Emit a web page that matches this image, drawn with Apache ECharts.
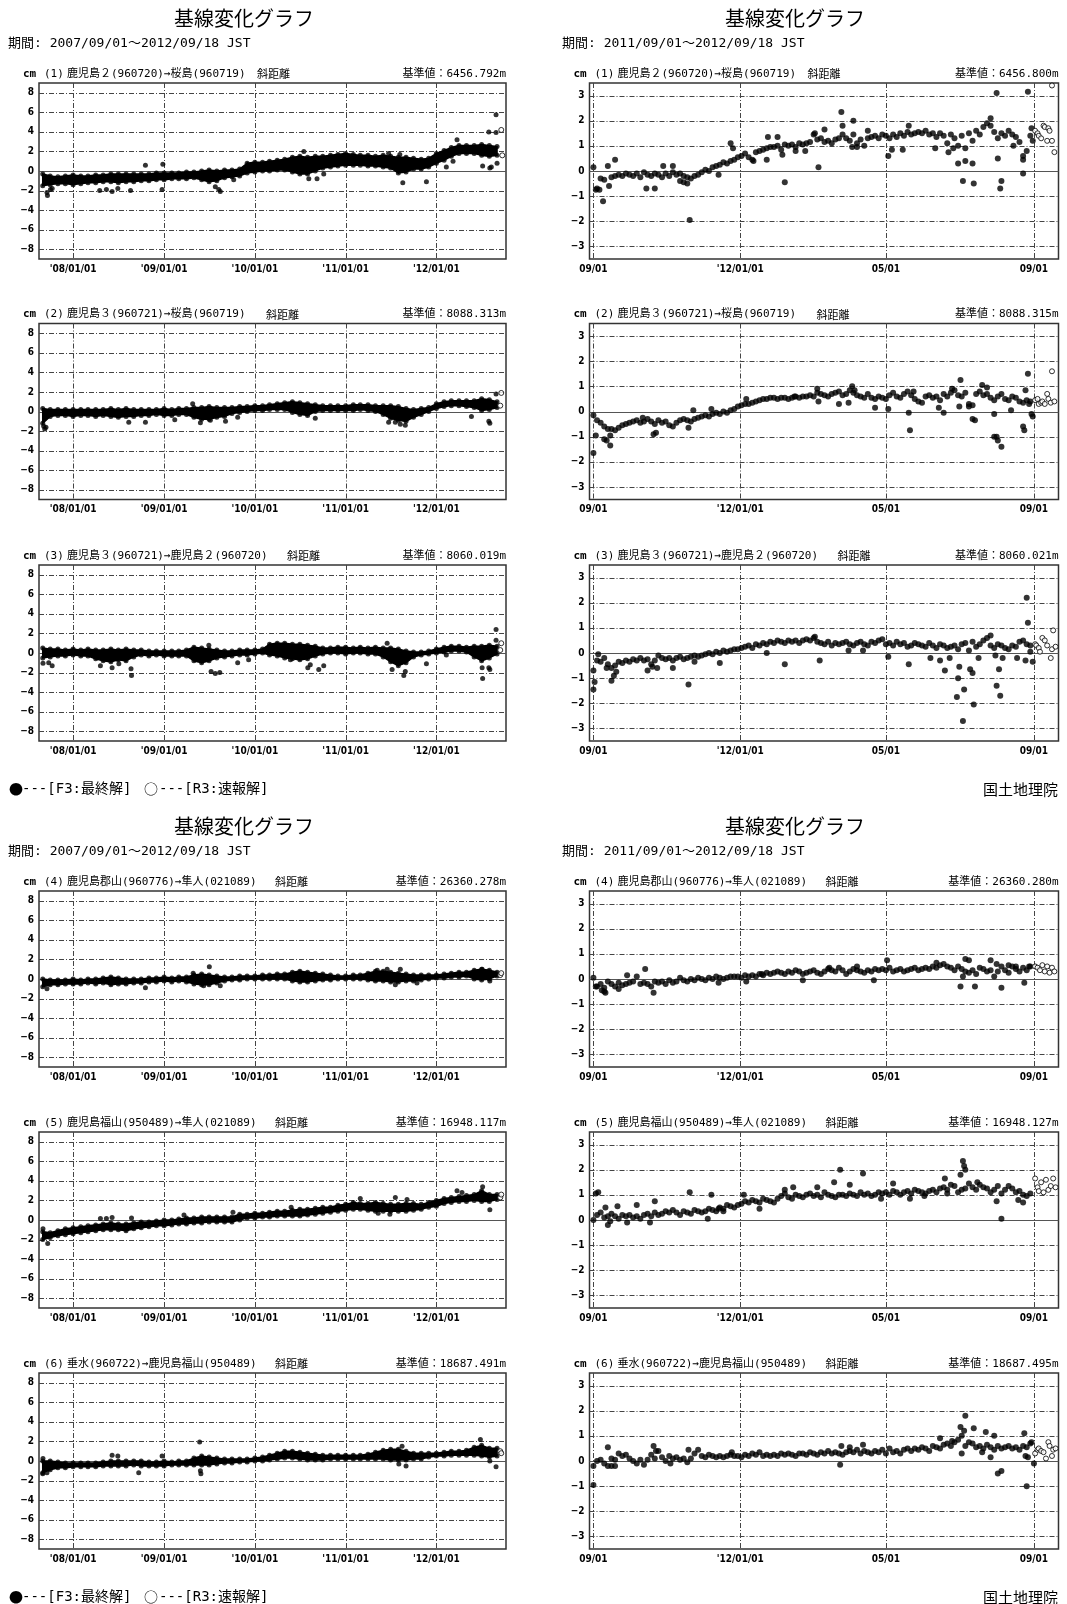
<!DOCTYPE html>
<html>
<head>
<meta charset="utf-8">
<title>基線変化グラフ</title>
<script src="https://cdn.jsdelivr.net/npm/echarts@6/dist/echarts.min.js"></script>
<style>
  html, body { margin: 0; padding: 0; background: #fff; }
  #chart { width: 1067px; height: 1604px; }
</style>
</head>
<body>
<div id="chart"></div>
<script>
// ---------- data ----------
// left column: 2007/09/01 - 2012/09/18, band edges read month by month (1st of month, Sep 2007 .. Sep 2012)
const p1Lo = [-1.5,-1.4,-1.3,-1.3, -1.4,-1.3,-1.2,-1.2,-1.1,-1.1,-1.2,-1.1,-1.1,-1.0,-1.0,-0.9, -0.9,-0.8,-0.8,-0.8,-0.7,-0.9,-1.1,-1.0,-0.7,-0.6,-0.5,-0.2, -0.1,0.0,0.0,0.1,0.1,-0.1,-0.3,-0.3,0.0,0.3,0.4,0.5, 0.6,0.6,0.6,0.5,0.5,0.4,0.3,-0.2,-0.1,0.2,0.2,0.4, 0.8,1.1,1.5,1.8,1.8,1.8,1.6,1.5,1.6];
const p1Hi = [-0.3,-0.5,-0.6,-0.5, -0.4,-0.5,-0.5,-0.4,-0.4,-0.3,-0.3,-0.3,-0.3,-0.3,-0.3,-0.2, -0.2,-0.2,-0.2,-0.1,-0.1,0.0,0.1,0.0,0.1,0.1,0.2,0.8, 0.9,0.9,1.0,1.1,1.2,1.4,1.5,1.4,1.5,1.5,1.6,1.7, 1.8,1.7,1.6,1.6,1.5,1.6,1.5,1.4,1.4,1.3,1.2,1.3, 1.8,2.1,2.4,2.6,2.6,2.6,2.7,2.6,2.5];
const p2Lo = [-1.2,-0.5,-0.4,-0.4, -0.5,-0.4,-0.4,-0.5,-0.4,-0.5,-0.6,-0.5,-0.5,-0.4,-0.4,-0.3, -0.4,-0.4,-0.3,-0.3,-0.6,-0.8,-0.8,-0.6,-0.5,-0.2,-0.1,0.0, 0.1,0.1,0.2,0.2,0.2,-0.1,-0.3,-0.4,0.0,0.1,0.1,0.1, 0.1,0.1,0.2,0.1,0.0,-0.3,-0.7,-0.9,-1.0,-0.6,-0.3,0.0, 0.3,0.5,0.6,0.6,0.5,0.4,0.1,0.2,0.4];
const p2Hi = [0.3,0.2,0.2,0.2, 0.2,0.2,0.2,0.2,0.2,0.3,0.2,0.3,0.2,0.2,0.2,0.2, 0.3,0.2,0.3,0.3,0.4,0.4,0.5,0.4,0.4,0.4,0.5,0.5, 0.6,0.6,0.7,0.8,0.9,1.0,0.9,0.8,0.7,0.6,0.6,0.6, 0.6,0.7,0.7,0.7,0.6,0.6,0.6,0.5,0.3,0.2,0.3,0.4, 0.8,1.0,1.1,1.1,1.1,1.1,1.3,1.2,1.0];
const p3Lo = [-0.5,-0.4,-0.3,-0.3, -0.2,-0.3,-0.3,-0.6,-0.8,-0.9,-0.7,-0.8,-0.4,-0.2,-0.3,-0.2, -0.3,-0.3,-0.3,-0.3,-0.8,-1.0,-0.8,-0.5,-0.4,-0.3,-0.2,-0.2, -0.1,0.0,-0.2,-0.3,-0.5,-0.6,-0.7,-0.6,-0.3,-0.1,0.0,0.0, -0.1,0.0,0.0,-0.1,-0.1,-0.4,-0.9,-1.3,-1.0,-0.4,-0.2,-0.1, 0.0,0.1,0.2,0.2,0.1,-0.4,-0.8,-0.5,-0.1];
const p3Hi = [0.5,0.4,0.4,0.3, 0.4,0.3,0.4,0.3,0.3,0.4,0.3,0.4,0.3,0.3,0.2,0.2, 0.2,0.2,0.2,0.3,0.6,0.5,0.4,0.3,0.2,0.2,0.3,0.3, 0.3,0.4,0.9,1.0,1.0,0.9,0.9,0.8,0.7,0.5,0.5,0.6, 0.6,0.5,0.6,0.5,0.6,0.5,0.5,0.4,0.2,0.1,0.1,0.2, 0.4,0.6,0.7,0.7,0.6,0.7,0.7,0.8,0.7];
const p4Lo = [-0.8,-0.6,-0.6,-0.5, -0.5,-0.5,-0.4,-0.5,-0.4,-0.6,-0.5,-0.5,-0.4,-0.4,-0.3,-0.3, -0.2,-0.3,-0.2,-0.3,-0.5,-0.6,-0.6,-0.4,-0.2,-0.1,-0.1,0.0, 0.0,0.0,0.0,0.0,0.0,-0.2,-0.3,-0.3,-0.2,-0.1,-0.1,0.0, 0.0,0.0,0.0,-0.1,-0.2,-0.2,-0.3,-0.3,-0.2,-0.2,-0.1,0.0, 0.1,0.1,0.2,0.2,0.3,0.0,-0.1,0.0,0.3];
const p4Hi = [0.0,-0.1,-0.1,-0.1, 0.0,-0.1,0.0,0.0,0.1,0.2,0.1,0.0,0.0,0.0,0.1,0.1, 0.2,0.1,0.2,0.2,0.4,0.5,0.4,0.3,0.2,0.2,0.3,0.3, 0.3,0.4,0.4,0.5,0.5,0.7,0.8,0.7,0.6,0.5,0.4,0.3, 0.3,0.4,0.4,0.6,0.8,0.8,0.7,0.6,0.5,0.4,0.4,0.4, 0.4,0.5,0.6,0.7,0.7,0.9,1.0,0.9,0.7];
const p5Lo = [-2.0,-1.8,-1.6,-1.5, -1.4,-1.3,-1.2,-1.1,-1.0,-1.0,-1.0,-1.1,-0.9,-0.8,-0.7,-0.6, -0.6,-0.5,-0.4,-0.4,-0.3,-0.3,-0.2,-0.2,-0.2,-0.2,0.0,0.2, 0.2,0.3,0.3,0.4,0.4,0.4,0.4,0.5,0.6,0.7,0.8,0.9, 1.0,1.1,1.1,1.0,0.9,0.9,0.9,0.9,0.9,1.0,1.1,1.3, 1.4,1.7,1.8,1.9,1.9,2.0,1.9,1.9,2.1];
const p5Hi = [-1.2,-1.3,-1.1,-0.9, -0.8,-0.7,-0.6,-0.5,-0.4,-0.3,-0.4,-0.4,-0.3,-0.2,-0.2,-0.1, 0.0,0.0,0.1,0.2,0.2,0.3,0.3,0.3,0.3,0.3,0.6,0.6, 0.7,0.7,0.8,0.9,0.9,1.0,1.1,1.1,1.2,1.3,1.3,1.5, 1.6,1.8,1.7,1.7,1.8,1.7,1.6,1.6,1.7,1.7,1.6,1.8, 2.0,2.2,2.3,2.4,2.5,2.6,3.0,2.6,2.6];
const p6Lo = [-1.2,-0.9,-0.7,-0.7, -0.6,-0.6,-0.6,-0.6,-0.5,-0.5,-0.5,-0.5,-0.4,-0.5,-0.5,-0.5, -0.5,-0.4,-0.4,-0.4,-0.4,-0.4,-0.4,-0.3,-0.2,-0.2,-0.1,-0.1, 0.0,0.0,0.1,0.2,0.3,0.3,0.2,0.1,0.1,0.1,0.2,0.2, 0.2,0.2,0.2,0.2,0.2,0.2,0.1,0.1,0.1,0.2,0.2,0.4, 0.5,0.5,0.6,0.6,0.6,0.6,0.5,0.4,0.5];
const p6Hi = [0.0,0.0,-0.1,-0.2, -0.2,-0.2,-0.2,-0.2,-0.1,0.0,0.0,0.0,0.0,0.0,-0.1,-0.1, 0.0,-0.1,0.0,0.0,0.3,0.5,0.4,0.3,0.2,0.2,0.2,0.2, 0.3,0.4,0.6,0.8,1.0,1.0,0.9,0.8,0.7,0.6,0.6,0.6, 0.6,0.6,0.6,0.7,0.9,1.1,1.2,1.2,1.0,0.8,0.8,0.8, 0.8,0.9,1.0,1.0,1.1,1.4,1.6,1.3,1.3];

// stray points [days after 2007/09/01, cm]
const p1Out = [[17,-2.2],[19,-2.5],[31,-1.9],[38,-1.8],[229,-2.0],[256,-1.9],[279,-2.1],[302,-1.8],[353,-2.0],[413,0.6],[480,-1.9],[483,0.7],[694,-1.6],[708,-1.9],[714,-2.1],[768,-0.9],[1050,2.0],[1070,-0.8],[1103,-0.8],[1130,-0.3],[1391,1.8],[1436,1.7],[1448,-1.2],[1543,-1.1],[1623,0.4],[1650,1.0],[1666,3.2],[1769,0.5],[1794,4.0],[1798,0.3],[1804,0.4],[1823,3.95],[1823,5.75],[1827,0.8]];
const p2Out = [[4,-1.5],[8,-1.8],[13,-1.6],[346,-1.1],[413,-1.1],[531,-0.85],[603,0.8],[634,-1.15],[674,-0.9],[735,-1.0],[784,-0.6],[1096,-0.7],[1391,-1.1],[1418,-1.1],[1438,-1.3],[1458,-1.4],[1724,-0.5],[1794,-1.0],[1798,-1.2],[1823,1.8]];
const p3Out = [[1,-1.05],[24,-1.0],[38,-1.3],[232,-1.3],[279,-1.5],[306,-1.1],[355,-1.6],[357,-2.3],[668,0.8],[677,-1.9],[694,-2.1],[712,-2.0],[784,-1.0],[828,-0.7],[996,-0.7],[1066,-1.5],[1076,-1.2],[1110,-1.7],[1130,-1.3],[1385,1.0],[1405,-1.7],[1452,-2.3],[1458,-1.9],[1543,-1.1],[1623,-0.2],[1767,-1.5],[1769,-2.6],[1794,-1.5],[1798,-1.7],[1823,2.4],[1823,1.3]];
const p4Out = [[17,-1.0],[413,-0.9],[605,0.6],[647,-0.7],[670,1.25],[714,-0.7],[1345,0.9],[1385,1.0],[1418,-0.6],[1438,1.0],[1505,-0.4],[1767,1.0],[1798,-0.2]];
const p5Out = [[1,-0.9],[20,-2.4],[232,0.15],[256,0.15],[279,0.25],[357,0.2],[568,0.5],[765,0.8],[999,1.3],[1277,2.2],[1349,0.7],[1396,0.6],[1418,2.3],[1465,2.1],[1666,3.0],[1686,2.8],[1769,3.4],[1798,1.05]];
const p6Out = [[0,-1.3],[17,-1.2],[1,0.25],[279,0.6],[302,0.5],[386,-1.2],[480,0.5],[631,1.95],[634,-1.0],[636,-1.3],[1445,1.5],[1432,-0.3],[1461,-0.5],[1760,2.2],[1798,0.0],[1823,-0.6]];

// R3 (quick solution) points, left column
const p1Quick = [[1844,4.2],[1848,1.6]];
const p2Quick = [[1840,0.6],[1844,1.9]];
const p3Quick = [[1840,0.3],[1844,1.0]];
const p4Quick = [[1840,0.4],[1844,0.6]];
const p5Quick = [[1840,2.3],[1844,2.6]];
const p6Quick = [[1840,1.0],[1844,0.8]];

// right column: 2011/09/01 - 2012/09/18, one reading every 3 days from 2011/09/01
const r1Val = [0.15,-0.7,-0.3,-0.35,0.2,-0.25,-0.2,-0.15,-0.2,-0.1, -0.15,-0.2,-0.1,-0.25,-0.05,-0.15,-0.2,-0.1,-0.15,-0.25, -0.1,-0.2,-0.05,-0.15,-0.1,-0.2,-0.25,-0.3,-0.2,-0.15, -0.05,0.05,0.0,0.15,0.2,0.25,0.35,0.3,0.4,0.45, 0.55,0.6,0.7,0.55,0.45,0.75,0.8,0.85,0.9,0.95, 0.95,1.0,0.85,1.05,1.0,1.05,0.95,1.1,1.05,1.1, 1.15,1.45,1.25,1.3,1.15,1.2,1.1,1.25,1.3,1.45, 1.3,1.2,1.45,1.1,1.25,1.0,1.3,1.35,1.4,1.3, 1.45,1.4,1.3,1.45,1.35,1.5,1.4,1.55,1.45,1.5, 1.55,1.5,1.6,1.45,1.5,1.35,1.5,1.4,1.1,1.45, 1.3,1.0,1.4,0.9,1.5,1.2,1.6,1.45,1.75,1.9, 1.8,1.55,1.3,1.5,1.4,1.6,1.45,1.35,1.15,0.6, 0.8,1.4];
const r2Val = [-0.15,-0.35,-0.45,-0.6,-0.7,-0.7,-0.75,-0.65,-0.55,-0.5, -0.45,-0.4,-0.35,-0.45,-0.4,-0.3,-0.4,-0.5,-0.35,-0.45, -0.4,-0.55,-0.6,-0.45,-0.35,-0.3,-0.35,-0.4,-0.3,-0.25, -0.2,-0.15,-0.2,-0.1,-0.05,-0.1,0.0,-0.05,0.05,0.1, 0.2,0.25,0.3,0.3,0.35,0.4,0.45,0.5,0.5,0.55, 0.55,0.5,0.55,0.55,0.5,0.55,0.6,0.55,0.6,0.6, 0.65,0.6,0.75,0.7,0.65,0.6,0.7,0.75,0.8,0.65, 0.7,0.85,0.75,0.65,0.6,0.55,0.7,0.55,0.5,0.6, 0.55,0.5,0.65,0.75,0.6,0.55,0.7,0.8,0.65,0.5, 0.4,0.35,0.6,0.65,0.55,0.6,0.45,0.7,0.6,0.75, 0.85,0.65,0.6,0.75,0.3,0.25,0.7,0.8,0.65,0.7, 0.55,0.45,0.6,0.7,0.5,0.45,0.6,0.55,0.4,0.35, 0.45,0.4];
const r3Val = [-0.7,-0.3,-0.35,-0.2,-0.45,-0.6,-0.5,-0.35,-0.4,-0.3, -0.35,-0.25,-0.3,-0.2,-0.3,-0.25,-0.45,-0.3,-0.1,-0.2, -0.25,-0.2,-0.3,-0.2,-0.15,-0.25,-0.2,-0.15,-0.1,-0.15, -0.1,-0.05,0.0,-0.05,0.05,0.0,0.1,0.05,0.1,0.15, 0.15,0.2,0.25,0.3,0.2,0.35,0.3,0.4,0.35,0.45, 0.4,0.5,0.45,0.4,0.5,0.45,0.5,0.4,0.5,0.55, 0.5,0.6,0.45,0.4,0.35,0.45,0.3,0.4,0.35,0.4, 0.45,0.35,0.3,0.4,0.45,0.35,0.3,0.45,0.4,0.5, 0.55,0.35,0.4,0.3,0.45,0.35,0.4,0.25,0.3,0.4, 0.35,0.3,0.25,0.4,0.3,0.2,0.35,0.3,0.2,0.25, 0.3,0.15,0.35,0.4,0.1,0.45,0.25,0.35,0.5,0.6, 0.3,0.2,0.35,0.3,0.2,0.15,0.3,0.25,0.45,0.5, 0.35,0.3];
const r4Val = [0.05,-0.3,-0.2,-0.35,-0.1,-0.2,-0.3,-0.15,-0.25,-0.2, -0.15,-0.1,0.1,-0.2,-0.15,-0.2,-0.3,-0.1,-0.15,-0.1, -0.2,-0.05,-0.15,-0.1,0.05,-0.05,-0.1,0.0,-0.05,0.05, 0.0,-0.05,0.05,0.0,0.1,0.05,0.0,0.05,0.1,0.1, 0.1,0.05,0.15,0.1,0.15,0.1,0.2,0.15,0.25,0.2, 0.25,0.3,0.25,0.2,0.3,0.25,0.35,0.3,0.2,0.25, 0.3,0.35,0.25,0.2,0.3,0.4,0.35,0.3,0.45,0.35, 0.2,0.3,0.4,0.35,0.3,0.25,0.35,0.3,0.4,0.35, 0.4,0.35,0.45,0.3,0.35,0.4,0.3,0.35,0.4,0.45, 0.35,0.4,0.45,0.4,0.5,0.45,0.55,0.6,0.5,0.45, 0.35,0.5,0.4,0.3,0.25,0.35,0.2,0.45,0.4,0.3, 0.35,0.1,0.3,0.5,0.35,0.25,0.5,0.4,0.3,0.45, 0.35,0.5];
const r5Val = [0.0,0.2,0.3,0.1,0.15,0.25,0.15,0.05,0.2,0.15, 0.2,0.1,0.15,0.05,0.2,0.25,0.15,0.3,0.2,0.25, 0.35,0.3,0.4,0.3,0.2,0.35,0.3,0.25,0.4,0.35, 0.3,0.35,0.45,0.4,0.35,0.5,0.45,0.6,0.55,0.5, 0.6,0.65,0.75,0.7,0.8,0.75,0.7,0.85,0.8,0.75, 0.7,0.85,0.95,1.05,0.9,0.85,1.0,0.95,0.9,1.0, 1.05,0.95,1.0,0.9,1.1,1.0,0.95,0.9,1.0,1.0, 0.95,1.05,1.0,0.95,1.1,1.0,1.05,0.95,1.0,1.1, 1.05,1.1,1.0,1.15,1.1,1.0,1.1,1.15,1.05,1.2, 1.15,1.1,1.05,1.15,1.2,1.1,1.25,1.3,1.2,1.4, 1.35,1.1,1.2,1.25,1.45,1.3,1.2,1.4,1.3,1.25, 1.1,1.2,1.35,1.05,1.2,1.35,1.25,1.1,1.15,1.0, 0.95,1.05];
const r6Val = [-0.2,0.0,0.05,-0.1,-0.2,0.1,0.05,0.3,0.2,0.25, 0.1,0.0,-0.1,0.05,-0.15,0.05,0.25,0.1,0.4,0.15, 0.0,0.2,0.1,0.15,0.05,0.1,-0.05,0.1,0.3,0.45, 0.2,0.15,0.25,0.2,0.15,0.2,0.15,0.2,0.25,0.2, 0.2,0.15,0.25,0.2,0.3,0.25,0.35,0.2,0.25,0.2, 0.25,0.2,0.3,0.25,0.3,0.25,0.2,0.3,0.3,0.25, 0.35,0.3,0.25,0.35,0.3,0.4,0.3,0.35,0.3,0.25, 0.35,0.4,0.35,0.45,0.3,0.4,0.35,0.3,0.4,0.35, 0.45,0.3,0.5,0.35,0.4,0.3,0.45,0.5,0.4,0.5, 0.45,0.55,0.5,0.4,0.6,0.55,0.5,0.65,0.7,0.6, 0.75,0.85,1.0,0.6,0.75,0.7,0.55,0.6,0.5,0.65, 0.55,0.45,0.6,0.5,0.55,0.6,0.5,0.55,0.45,0.6, 0.55,0.7];

// extra F3 points [days after 2011/09/01, cm]
const r1Out = [[2,-0.75],[5,-0.75],[8,-1.2],[13,-0.6],[18,0.45],[44,-0.7],[51,-0.7],[58,0.2],[66,0.2],[72,-0.4],[75,-0.45],[78,-0.5],[80,-1.95],[104,-0.15],[114,1.1],[116,0.9],[133,0.4],[144,0.45],[145,1.35],[153,1.35],[157,0.65],[159,-0.45],[168,0.8],[176,0.8],[184,1.5],[187,0.15],[192,1.65],[206,2.35],[207,1.8],[215,0.95],[216,2.0],[219,0.95],[228,1.6],[245,0.6],[248,0.85],[257,0.85],[262,1.8],[284,0.9],[295,0.75],[299,0.9],[303,0.3],[307,-0.4],[309,0.4],[315,0.3],[316,-0.5],[330,2.1],[335,3.1],[336,0.5],[338,-0.7],[339,-0.4],[349,1.0],[357,0.45],[357,-0.1],[361,3.15],[364,1.7],[365,1.2]];
const r2Out = [[0,-1.65],[2,-0.95],[9,-1.1],[11,-1.15],[14,-0.95],[14,-1.35],[41,-0.25],[50,-0.9],[52,-0.85],[79,-0.65],[83,0.05],[98,0.1],[127,0.5],[167,0.6],[186,0.9],[187,0.4],[204,0.3],[212,0.35],[215,1.0],[217,0.85],[234,0.15],[245,0.1],[262,-0.05],[263,-0.75],[266,0.8],[287,0.15],[291,-0.05],[298,0.9],[304,0.2],[305,1.25],[312,0.2],[315,-0.3],[317,-0.35],[323,1.05],[327,0.95],[333,-1.0],[333,-0.1],[335,-1.0],[336,-1.15],[339,-1.4],[347,0.05],[357,-0.6],[358,-0.75],[359,0.85],[361,1.5],[362,0.3],[364,-0.1],[365,-0.2]];
const r3Out = [[0,-1.45],[1,-1.15],[4,-0.05],[11,-0.6],[15,-1.1],[17,-0.9],[19,-0.75],[45,-0.7],[49,-0.55],[53,-0.6],[66,-0.6],[79,-1.25],[84,-0.35],[105,-0.4],[144,0.0],[159,-0.45],[184,0.65],[188,-0.3],[212,0.1],[224,0.1],[245,-0.15],[262,-0.45],[280,-0.2],[288,-0.3],[292,-0.7],[296,-0.2],[302,-1.75],[303,-1.0],[304,-0.55],[307,-2.7],[308,-1.45],[313,-0.65],[315,-0.8],[316,-2.05],[320,-0.2],[330,0.7],[334,-0.1],[335,-1.3],[337,-0.65],[338,-1.7],[340,-0.2],[352,-0.2],[359,-0.3],[360,2.2],[361,1.2],[363,0.05],[365,-0.35]];
const r4Out = [[2,-0.3],[7,-0.45],[9,-0.5],[10,-0.55],[21,-0.4],[28,0.15],[43,0.4],[50,-0.55],[104,-0.15],[127,-0.1],[140,0.2],[174,-0.05],[196,0.45],[219,0.5],[233,-0.05],[244,0.75],[285,0.65],[305,-0.3],[307,0.1],[309,0.8],[312,0.75],[317,-0.3],[330,0.75],[335,0.6],[339,-0.35],[345,0.55],[351,0.5],[358,-0.15],[362,0.5]];
const r5Out = [[2,1.05],[4,1.1],[10,0.5],[12,-0.2],[14,-0.05],[20,0.55],[28,-0.1],[36,0.6],[47,-0.1],[51,0.75],[80,1.1],[95,0.05],[98,1.0],[104,0.45],[108,0.35],[125,1.0],[138,0.45],[159,1.2],[166,1.3],[186,1.3],[200,1.5],[205,2.0],[213,1.4],[224,1.85],[239,0.85],[249,1.45],[263,0.85],[275,0.95],[292,1.65],[294,1.05],[305,1.8],[307,2.35],[308,2.15],[309,2.0],[319,1.5],[335,0.75],[339,0.05],[353,0.8],[357,0.7]];
const r6Out = [[0,-0.95],[12,0.55],[15,-0.2],[18,-0.2],[50,0.6],[52,0.4],[64,-0.1],[79,0.45],[115,0.35],[205,-0.15],[206,0.6],[213,0.55],[224,0.65],[288,0.9],[298,0.8],[305,1.35],[306,0.3],[308,1.2],[309,1.8],[316,1.3],[323,0.35],[326,1.15],[330,0.15],[333,1.0],[336,-0.5],[339,-0.4],[358,1.1],[359,0.2],[360,-1.0],[361,0.15],[364,0.75],[366,-0.1]];

// R3 (quick solution) points, right column [days after 2011/09/01, cm]
const r1Quick = [[367,1.6],[369,1.5],[370,1.4],[372,1.3],[374,1.8],[375,1.75],[377,1.2],[378,1.7],[379,1.6],[381,3.4],[381,1.2],[383,0.75]];
const r2Quick = [[367,0.45],[369,0.5],[370,0.3],[372,0.35],[373,0.4],[375,0.3],[377,0.7],[378,0.5],[380,0.35],[381,1.6],[383,0.4]];
const r3Quick = [[367,0.35],[368,0.3],[370,0.2],[371,0.05],[373,0.6],[375,0.5],[377,0.3],[380,-0.2],[381,0.15],[382,0.9],[384,0.25]];
const r4Quick = [[367,0.5],[369,0.45],[371,0.35],[373,0.55],[375,0.3],[377,0.5],[379,0.25],[381,0.45],[383,0.3]];
const r5Quick = [[367,1.65],[369,1.3],[370,1.15],[372,1.5],[374,1.1],[376,1.6],[378,1.2],[380,1.35],[382,1.65],[384,1.3]];
const r6Quick = [[367,0.3],[369,0.45],[370,0.5],[372,0.4],[374,0.35],[376,0.1],[378,0.75],[379,0.6],[381,0.2],[382,0.45],[384,0.5]];

// labels
const pairNames = ['鹿児島２(960720)→桜島(960719)', '鹿児島３(960721)→桜島(960719)', '鹿児島３(960721)→鹿児島２(960720)',
  '鹿児島郡山(960776)→隼人(021089)', '鹿児島福山(950489)→隼人(021089)', '垂水(960722)→鹿児島福山(950489)'];
const baseLeft = ['6456.792', '8088.313', '8060.019', '26360.278', '16948.117', '18687.491'];
const baseRight = ['6456.800', '8088.315', '8060.021', '26360.280', '16948.127', '18687.495'];
const leftTicks = ['2008-01-01', '2009-01-01', '2010-01-01', '2011-01-01', '2012-01-01'];
const leftTickLabels = ["'08/01/01", "'09/01/01", "'10/01/01", "'11/01/01", "'12/01/01"];
const rightTicks = ['2011-09-01', '2012-01-01', '2012-05-01', '2012-09-01'];
const rightTickLabels = ['09/01', "'12/01/01", '05/01', '09/01'];
const leftYTicks = [-8, -6, -4, -2, 0, 2, 4, 6, 8];
const rightYTicks = [-3, -2, -1, 0, 1, 2, 3];

// ---------- layout ----------
const DAY = 86400000;
const FONT = '"Noto Sans CJK JP", "Noto Sans", sans-serif';
const MONO = '"DejaVu Sans Mono", "Noto Sans CJK JP", monospace';
const TICK_FONT = '"DejaVu Sans Condensed", "Liberation Sans Narrow", "Liberation Sans", sans-serif';
const TOPS = [83, 323.5, 565, 891, 1132, 1373];
const PANEL_H = 176;
const LEFT_X = 39, LEFT_W = 467, RIGHT_X = 589.5, RIGHT_W = 469;
const KIND_DX = [218, 227, 248, 236, 236, 236];

const day = (s) => { const [y, m, d] = s.split('-').map(Number); return Date.UTC(y, m - 1, d); };
const leftStart = day('2007-09-01');
const rightStart = day('2011-09-01');
const leftRange = [day('2007-08-17'), day('2012-10-07')];
const rightRange = [Date.UTC(2011, 7, 28, 18), Date.UTC(2012, 8, 21, 10)];
const leftTickTimes = leftTicks.map(day);
const rightTickTimes = rightTicks.map(day);
const monthTimes = p1Lo.map((_, i) => Date.UTC(2007, 8 + i, 1));

const bandLo = [p1Lo, p2Lo, p3Lo, p4Lo, p5Lo, p6Lo];
const bandHi = [p1Hi, p2Hi, p3Hi, p4Hi, p5Hi, p6Hi];
const leftOut = [p1Out, p2Out, p3Out, p4Out, p5Out, p6Out];
const leftQuick = [p1Quick, p2Quick, p3Quick, p4Quick, p5Quick, p6Quick];
const rightVal = [r1Val, r2Val, r3Val, r4Val, r5Val, r6Val];
const rightOut = [r1Out, r2Out, r3Out, r4Out, r5Out, r6Out];
const rightQuick = [r1Quick, r2Quick, r3Quick, r4Quick, r5Quick, r6Quick];

function renderGridLine(params, api) {
  const cs = params.coordSys;
  const kind = api.value(2);
  const p = api.coord([api.value(0), api.value(1)]);
  let shape;
  if (kind === 0) {
    const x = Math.round(p[0]) + 0.5;
    shape = { x1: x, y1: cs.y, x2: x, y2: cs.y + cs.height };
  } else {
    const y = Math.round(p[1]) + 0.5;
    shape = { x1: cs.x, y1: y, x2: cs.x + cs.width, y2: y };
  }
  const style = kind === 2
    ? { stroke: '#555', lineWidth: 1.2 }
    : { stroke: '#444', lineWidth: 1, lineDash: [5, 2, 1, 2] };
  return { type: 'line', shape, style };
}

function renderBand(params, api) {
  const a = api.coord([api.value(0), api.value(2)]);
  const b = api.coord([api.value(3), api.value(5)]);
  const c = api.coord([api.value(3), api.value(4)]);
  const d = api.coord([api.value(0), api.value(1)]);
  return { type: 'polygon', shape: { points: [a, b, c, d] }, style: { fill: '#000', stroke: '#000', lineWidth: 1.5 } };
}

function txt(text, x, y, size, align, weight, family) {
  return {
    type: 'text', silent: true,
    style: {
      text, x, y, fill: '#000',
      font: `${weight || 'normal'} ${size}px ${family || FONT}`,
      textAlign: align || 'left', textVerticalAlign: 'middle'
    }
  };
}

const grids = [], xAxes = [], yAxes = [], series = [], texts = [];
const dot = { color: '#000' };
const ring = { color: '#fff', borderColor: '#000', borderWidth: 1 };
const minus = (v) => String(v).replace('-', '−');

for (let k = 0; k < 6; k++) {
  for (let side = 0; side < 2; side++) {
    const gi = grids.length;
    const gx = side ? RIGHT_X : LEFT_X;
    const gw = side ? RIGHT_W : LEFT_W;
    const top = TOPS[k];
    const tickTimes = side ? rightTickTimes : leftTickTimes;
    const tickLabels = side ? rightTickLabels : leftTickLabels;
    const yTicks = side ? rightYTicks : leftYTicks;
    const range = side ? rightRange : leftRange;
    const ext = side ? 3.5 : 9;

    grids.push({ left: gx, top, width: gw, height: PANEL_H, show: true, borderColor: '#333', borderWidth: 1.5, containLabel: false });
    xAxes.push({
      type: 'value', gridIndex: gi, min: range[0], max: range[1],
      axisLine: { show: false }, axisTick: { show: false }, splitLine: { show: false },
      axisLabel: {
        customValues: tickTimes, margin: 5, color: '#000', fontSize: 10, fontWeight: 'bold', fontFamily: TICK_FONT,
        formatter: (v) => { const i = tickTimes.findIndex(t => Math.abs(t - v) < DAY); return i < 0 ? '' : tickLabels[i]; }
      }
    });
    yAxes.push({
      type: 'value', gridIndex: gi, min: -ext, max: ext,
      axisLine: { show: false }, axisTick: { show: false }, splitLine: { show: false },
      axisLabel: { customValues: yTicks, margin: 5, color: '#000', fontSize: 10, fontWeight: 'bold', fontFamily: TICK_FONT, formatter: minus }
    });

    // grid lines
    const lines = tickTimes.map(t => [t, 0, 0]).concat(yTicks.map(v => [range[0], v, v === 0 ? 2 : 1]));
    series.push({ type: 'custom', xAxisIndex: gi, yAxisIndex: gi, z: 1, silent: true, renderItem: renderGridLine, encode: { x: 0, y: 1 }, data: lines });

    if (!side) {
      const lo = bandLo[k], hi = bandHi[k];
      const band = [];
      for (let i = 0; i < lo.length - 1; i++) band.push([monthTimes[i], lo[i], hi[i], monthTimes[i + 1], lo[i + 1], hi[i + 1]]);
      series.push({ type: 'custom', xAxisIndex: gi, yAxisIndex: gi, z: 2, silent: true, renderItem: renderBand, encode: { x: [0, 3], y: [1, 2, 4, 5] }, data: band });
      const edges = lo.map((v, i) => [monthTimes[i], v]).concat(hi.map((v, i) => [monthTimes[i], v]));
      series.push({ type: 'scatter', xAxisIndex: gi, yAxisIndex: gi, z: 3, symbolSize: 5, itemStyle: dot, data: edges });
      series.push({ type: 'scatter', xAxisIndex: gi, yAxisIndex: gi, z: 3, symbolSize: 5, itemStyle: dot, data: leftOut[k].map(([d, v]) => [leftStart + d * DAY, v]) });
      series.push({ type: 'scatter', xAxisIndex: gi, yAxisIndex: gi, z: 4, symbolSize: 5, itemStyle: ring, data: leftQuick[k].map(([d, v]) => [leftStart + d * DAY, v]) });
    } else {
      series.push({ type: 'scatter', xAxisIndex: gi, yAxisIndex: gi, z: 3, symbolSize: 6, itemStyle: dot, data: rightVal[k].map((v, i) => [rightStart + i * 3 * DAY, v]) });
      series.push({ type: 'scatter', xAxisIndex: gi, yAxisIndex: gi, z: 3, symbolSize: 6, itemStyle: dot, data: rightOut[k].map(([d, v]) => [rightStart + d * DAY, v]) });
      series.push({ type: 'scatter', xAxisIndex: gi, yAxisIndex: gi, z: 4, symbolSize: 5, itemStyle: ring, data: rightQuick[k].map(([d, v]) => [rightStart + d * DAY, v]) });
    }

    // panel heading
    const ty = top - 9;
    texts.push(txt('cm', gx - 16, ty, 11, 'left', 'bold', MONO));
    texts.push(txt(`(${k + 1})`, gx + 5, ty, 11, 'left', 'normal', MONO));
    texts.push(txt(pairNames[k], gx + 28, ty, 11, 'left', 'normal', MONO));
    texts.push(txt('斜距離', gx + KIND_DX[k], ty, 11));
    texts.push(txt(`基準値：${side ? baseRight[k] : baseLeft[k]}m`, gx + gw, ty, 11, 'right', 'normal', MONO));
  }
}

// page headings and footers (two pages stacked)
[0, 808].forEach((dy) => {
  texts.push(txt('基線変化グラフ', 244, 18 + dy, 20, 'center'));
  texts.push(txt('基線変化グラフ', 795, 18 + dy, 20, 'center'));
  texts.push(txt('期間: 2007/09/01～2012/09/18 JST', 8, 44 + dy, 13, 'left', 'normal', MONO));
  texts.push(txt('期間: 2011/09/01～2012/09/18 JST', 562, 44 + dy, 13, 'left', 'normal', MONO));
  texts.push(txt('●', 9, 789 + dy, 14));
  texts.push(txt('---[F3:最終解]', 22, 789 + dy, 14, 'left', 'normal', MONO));
  texts.push(txt('○', 144, 789 + dy, 14));
  texts.push(txt('---[R3:速報解]', 159, 789 + dy, 14, 'left', 'normal', MONO));
  texts.push(txt('国土地理院', 1058, 789 + dy, 15, 'right'));
});

const chart = echarts.init(document.getElementById('chart'), null, { renderer: 'canvas' });
chart.setOption({
  backgroundColor: '#fff',
  animation: false,
  grid: grids,
  xAxis: xAxes,
  yAxis: yAxes,
  series,
  graphic: { elements: texts }
});
</script>
</body>
</html>
